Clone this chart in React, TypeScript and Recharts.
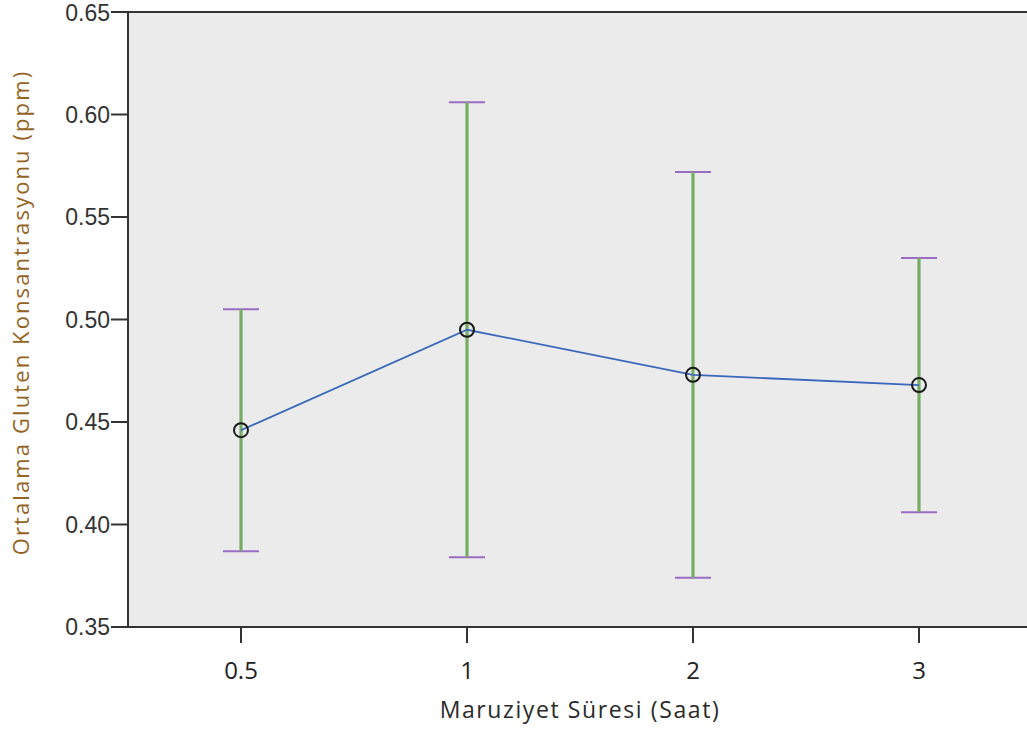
import { ComposedChart, Line, ErrorBar, XAxis, YAxis, CartesianGrid, ReferenceLine } from "recharts";

// Maruziyet süresine göre ortalama gluten konsantrasyonu, %95 GA
const sureler = ["0.5", "1", "2", "3"];
const ortalama = [0.446, 0.495, 0.473, 0.468];
const altSinir = [0.387, 0.384, 0.374, 0.406];
const ustSinir = [0.505, 0.606, 0.572, 0.530];
const yTicks = [0.35, 0.4, 0.45, 0.5, 0.55, 0.6, 0.65];

const data = sureler.map((s, i) => ({
  sure: s,
  ortalama: ortalama[i],
  hata: [ortalama[i] - altSinir[i], ustSinir[i] - ortalama[i]],
}));

const textFont = "'Open Sans', 'DejaVu Sans', sans-serif";

function YTitle(props: any) {
  const vb = props.viewBox;
  const x = vb.x + 20;
  const y = vb.y + vb.height / 2 - 7;
  return (
    <text
      x={x}
      y={y}
      transform={`rotate(-90, ${x}, ${y})`}
      textAnchor="middle"
      dominantBaseline="central"
      fill="#94631f"
      fontFamily={textFont}
      fontSize={22}
      letterSpacing={2.1}
    >
      Ortalama Gluten Konsantrasyonu (ppm)
    </text>
  );
}

function XTitle(props: any) {
  const vb = props.viewBox;
  return (
    <text
      x={580}
      y={vb.y + 82}
      textAnchor="middle"
      dominantBaseline="central"
      fill="#2a2a2a"
      fontFamily={textFont}
      fontSize={23}
      letterSpacing={1.6}
    >
      Maruziyet Süresi (Saat)
    </text>
  );
}

export default function App() {
  return (
    <div style={{ position: "absolute", left: 0, top: 0, width: 1027, height: 731, overflow: "hidden", background: "#fff" }}>
      <ComposedChart width={1032} height={731} data={data} margin={{ top: 12, right: 0, bottom: 0, left: 0 }}>
        <CartesianGrid horizontal={false} vertical={false} fill="#ebebeb" stroke="none" />
        <XAxis
          dataKey="sure"
          scale="band"
          height={104}
          axisLine={{ stroke: "#333", strokeWidth: 2 }}
          tickLine={{ stroke: "#333", strokeWidth: 2 }}
          tickSize={16}
          tickMargin={19}
          tick={{ fill: "#222", fontSize: 24, fontFamily: textFont }}
          label={<XTitle />}
        />
        <YAxis
          type="number"
          domain={[0.35, 0.65]}
          ticks={yTicks}
          width={128}
          axisLine={{ stroke: "#333", strokeWidth: 2 }}
          tickLine={{ stroke: "#333", strokeWidth: 2 }}
          tickSize={17}
          tickMargin={1}
          tickFormatter={(v: number) => v.toFixed(2)}
          tick={{ fill: "#333", fontSize: 23, fontFamily: "'Liberation Sans', Arial, sans-serif" }}
          label={<YTitle />}
        />
        <ReferenceLine y={0.65} stroke="#333" strokeWidth={2} />
        <Line
          dataKey="ortalama"
          type="linear"
          stroke="#3a68bd"
          strokeWidth={1.8}
          isAnimationActive={false}
          dot={{ r: 7, stroke: "#1a1a1a", strokeWidth: 2, fill: "none" }}
          activeDot={false}
        >
          <ErrorBar dataKey="hata" direction="y" width={18} stroke="#9b6cc6" strokeWidth={2} isAnimationActive={false} />
          <ErrorBar dataKey="hata" direction="y" width={0} stroke="#76ad63" strokeWidth={3.2} isAnimationActive={false} />
        </Line>
      </ComposedChart>
    </div>
  );
}
